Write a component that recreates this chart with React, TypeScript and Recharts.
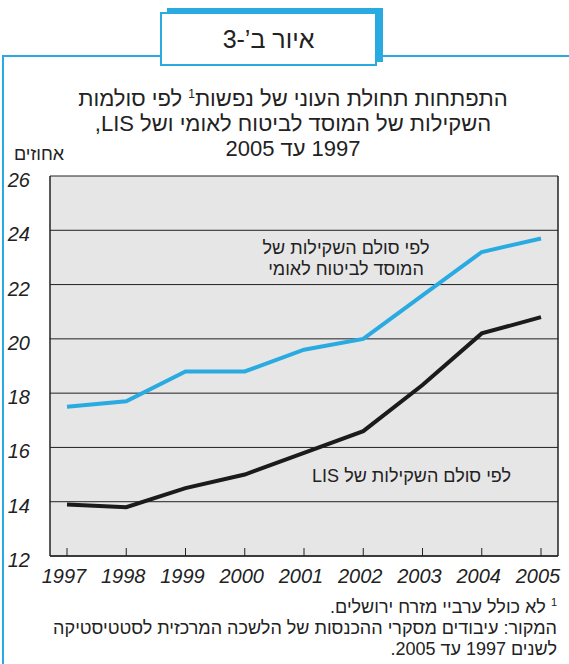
import React from "react";
import { LineChart, Line, XAxis, YAxis, CartesianGrid } from "recharts";

const years = ["1997", "1998", "1999", "2000", "2001", "2002", "2003", "2004", "2005"];
const nationalInsurance = [17.5, 17.7, 18.8, 18.8, 19.6, 20.0, 21.6, 23.2, 23.7];
const lisScale = [13.9, 13.8, 14.5, 15.0, 15.8, 16.6, 18.3, 20.2, 20.8];
const yTicks = [12, 14, 16, 18, 20, 22, 24, 26];

const data = years.map((year, i) => ({
  year,
  ni: nationalInsurance[i],
  lis: lisScale[i],
}));

const FONT = "'Liberation Sans', Arial, 'DejaVu Sans', sans-serif";
const BLUE = "#29abe2";
const INK = "#222";

const YearTick = (props: any) => {
  const { x, y, payload } = props;
  return (
    <g>
      <line x1={x} y1={y - 8} x2={x} y2={y} stroke={INK} strokeWidth={1} />
      <text
        x={x - 3}
        y={y + 27}
        textAnchor="middle"
        fontFamily={FONT}
        fontStyle="italic"
        fontSize={20}
        fill={INK}
      >
        {payload.value}
      </text>
    </g>
  );
};

const ValueTick = (props: any) => {
  const { x, y, payload } = props;
  return (
    <text
      x={x}
      y={y + 11}
      textAnchor="end"
      fontFamily={FONT}
      fontStyle="italic"
      fontSize={20}
      fill={INK}
    >
      {payload.value}
    </text>
  );
};

const abs = (left: number, top: number, extra: React.CSSProperties = {}): React.CSSProperties => ({
  position: "absolute",
  left,
  top,
  ...extra,
});

export default function App() {
  return (
    <div
      style={{
        position: "absolute",
        left: 0,
        top: 0,
        width: 569,
        height: 664,
        background: "#fff",
        fontFamily: FONT,
        color: INK,
        overflow: "hidden",
      }}
    >
      {/* outer frame */}
      <div
        style={abs(2, 55, {
          width: 580,
          height: 620,
          borderLeft: `2px solid ${BLUE}`,
          borderTop: `2px solid ${BLUE}`,
        })}
      />
      {/* tab with shadow */}
      <div style={abs(167, 8, { width: 216, height: 54, background: BLUE })} />
      <div
        style={abs(160, 12, {
          width: 213,
          height: 50,
          background: "#fff",
          border: `2px solid ${BLUE}`,
          display: "flex",
          alignItems: "center",
          justifyContent: "center",
          fontSize: 25,
          direction: "rtl",
        })}
      >
        איור ב’-3
      </div>

      {/* title */}
      <div
        style={abs(30, 82, {
          width: 526,
          textAlign: "center",
          direction: "rtl",
          fontSize: 22,
          lineHeight: "25px",
        })}
      >
        <div>
          התפתחות תחולת העוני של נפשות<sup style={{ fontSize: 12, verticalAlign: "8px" }}>1</sup> לפי סולמות
        </div>
        <div>השקילות של המוסד לביטוח לאומי ושל LIS,</div>
        <div>1997 עד 2005</div>
      </div>
      <div style={abs(14, 144, { fontSize: 18, direction: "rtl" })}>אחוזים</div>

      <div style={abs(0, 0)}>
        <LineChart
          width={569}
          height={664}
          data={data}
          margin={{ top: 176, right: 10, bottom: 0, left: 0 }}
        >
          <CartesianGrid
            yAxisId="left"
            vertical={false}
            fill="#e6e6e6"
            stroke={INK}
            strokeWidth={1}
          />
          <XAxis
            dataKey="year"
            padding={{ left: 17, right: 17 }}
            axisLine={{ stroke: INK, strokeWidth: 1.5 }}
            tickLine={false}
            tickSize={0}
            tickMargin={0}
            tick={<YearTick />}
            height={108}
            interval={0}
          />
          <YAxis
            yAxisId="left"
            domain={[12, 26]}
            ticks={yTicks}
            width={50}
            axisLine={{ stroke: INK, strokeWidth: 1.5 }}
            tickLine={false}
            tickMargin={14}
            tick={<ValueTick />}
            interval={0}
          />
          <YAxis
            yAxisId="right"
            orientation="right"
            domain={[12, 26]}
            ticks={yTicks}
            width={1}
            axisLine={{ stroke: INK, strokeWidth: 1.5 }}
            tickLine={false}
            tick={false}
          />
          <Line
            yAxisId="left"
            dataKey="ni"
            stroke={BLUE}
            strokeWidth={4}
            dot={false}
            isAnimationActive={false}
          />
          <Line
            yAxisId="left"
            dataKey="lis"
            stroke="#1b1b1b"
            strokeWidth={4}
            dot={false}
            isAnimationActive={false}
          />
        </LineChart>
      </div>

      {/* series labels */}
      <div
        style={abs(236, 238, {
          width: 220,
          textAlign: "center",
          direction: "rtl",
          fontSize: 18,
          lineHeight: "21px",
        })}
      >
        <div>לפי סולם השקילות של</div>
        <div>המוסד לביטוח לאומי</div>
      </div>
      <div style={abs(290, 466, { width: 221, textAlign: "right", direction: "rtl", fontSize: 18 })}>
        לפי סולם השקילות של LIS
      </div>

      {/* notes */}
      <div
        style={abs(0, 592, {
          width: 557,
          textAlign: "right",
          direction: "rtl",
          fontSize: 18,
          lineHeight: "21px",
        })}
      >
        <div>
          <sup style={{ fontSize: 11, verticalAlign: "7px" }}>1</sup> לא כולל ערביי מזרח ירושלים.
        </div>
        <div>המקור: עיבודים מסקרי ההכנסות של הלשכה המרכזית לסטטיסטיקה</div>
        <div>לשנים 1997 עד 2005.</div>
      </div>
    </div>
  );
}
